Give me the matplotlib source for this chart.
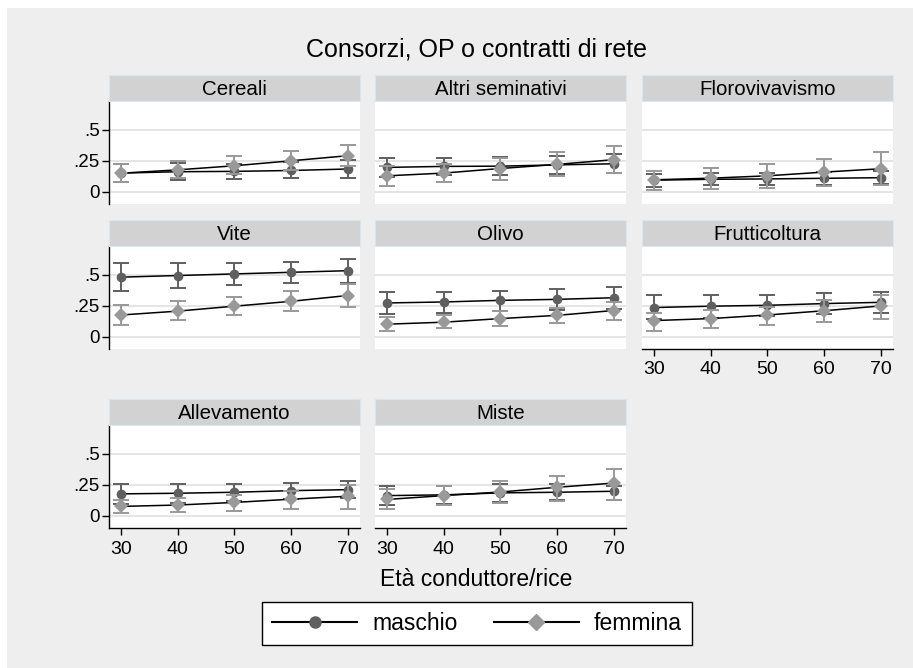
import numpy as np
import matplotlib.pyplot as plt
from matplotlib.lines import Line2D
from matplotlib.patches import Rectangle

plt.rcParams['font.family'] = ['Liberation Sans', 'DejaVu Sans']

# age of the farm manager (x axis)
eta = [30, 40, 50, 60, 70]

settori = ['Cereali', 'Altri seminativi', 'Florovivavismo',
           'Vite', 'Olivo', 'Frutticoltura',
           'Allevamento', 'Miste']

# predicted probabilities and 95% CI, one row per sector
maschio_p = [
    [0.149, 0.160, 0.163, 0.170, 0.182],
    [0.195, 0.203, 0.205, 0.215, 0.224],
    [0.092, 0.099, 0.102, 0.107, 0.112],
    [0.479, 0.492, 0.505, 0.518, 0.531],
    [0.271, 0.279, 0.292, 0.300, 0.313],
    [0.234, 0.245, 0.252, 0.266, 0.276],
    [0.175, 0.180, 0.188, 0.201, 0.209],
    [0.161, 0.167, 0.183, 0.188, 0.196],
]
maschio_lo = [
    [0.080, 0.097, 0.103, 0.108, 0.108],
    [0.120, 0.130, 0.130, 0.140, 0.150],
    [0.040, 0.050, 0.050, 0.055, 0.060],
    [0.371, 0.395, 0.418, 0.431, 0.434],
    [0.179, 0.192, 0.210, 0.218, 0.226],
    [0.140, 0.153, 0.166, 0.179, 0.192],
    [0.095, 0.103, 0.114, 0.135, 0.140],
    [0.082, 0.090, 0.108, 0.122, 0.127],
]
maschio_hi = [
    [0.220, 0.230, 0.225, 0.235, 0.255],
    [0.273, 0.273, 0.276, 0.290, 0.300],
    [0.145, 0.150, 0.150, 0.160, 0.165],
    [0.589, 0.589, 0.592, 0.605, 0.629],
    [0.363, 0.363, 0.368, 0.381, 0.400],
    [0.334, 0.334, 0.339, 0.350, 0.360],
    [0.254, 0.257, 0.254, 0.262, 0.280],
    [0.235, 0.240, 0.254, 0.254, 0.240],
]
femmina_p = [
    [0.148, 0.175, 0.208, 0.248, 0.289],
    [0.127, 0.149, 0.186, 0.219, 0.257],
    [0.095, 0.108, 0.127, 0.157, 0.184],
    [0.174, 0.205, 0.245, 0.284, 0.331],
    [0.100, 0.116, 0.145, 0.171, 0.210],
    [0.129, 0.145, 0.174, 0.208, 0.247],
    [0.074, 0.085, 0.106, 0.132, 0.156],
    [0.130, 0.161, 0.190, 0.228, 0.262],
]
femmina_lo = [
    [0.075, 0.110, 0.140, 0.175, 0.210],
    [0.049, 0.080, 0.095, 0.122, 0.149],
    [0.013, 0.020, 0.027, 0.049, 0.054],
    [0.095, 0.134, 0.171, 0.205, 0.237],
    [0.045, 0.066, 0.087, 0.110, 0.134],
    [0.045, 0.066, 0.092, 0.118, 0.139],
    [0.021, 0.029, 0.040, 0.050, 0.056],
    [0.056, 0.082, 0.103, 0.119, 0.127],
]
femmina_hi = [
    [0.225, 0.250, 0.283, 0.324, 0.375],
    [0.210, 0.220, 0.270, 0.319, 0.367],
    [0.167, 0.194, 0.224, 0.265, 0.316],
    [0.252, 0.287, 0.321, 0.368, 0.421],
    [0.158, 0.171, 0.208, 0.231, 0.279],
    [0.192, 0.213, 0.239, 0.297, 0.337],
    [0.127, 0.138, 0.167, 0.201, 0.249],
    [0.214, 0.240, 0.278, 0.320, 0.378],
]

col_m = '#5f5f5f'
col_f = '#999999'

W, H = 913, 668
fig = plt.figure(figsize=(W / 100, H / 100), dpi=100)
fig.patches.append(Rectangle((7 / W, 0), 1, 1 - 8 / H, transform=fig.transFigure,
                             facecolor='#eeeeee', edgecolor='none', zorder=-10))

col_x = [109, 375, 642]
pw = 251
row_top = [101, 246, 425]
ph = 103
sh = 26


def fx(px):
    return px / W


def fy(py):
    return 1 - py / H


for i, nome in enumerate(settori):
    r, c = divmod(i, 3)
    x0 = col_x[c]
    y0 = row_top[r]
    ax = fig.add_axes([fx(x0), fy(y0 + ph), pw / W, ph / H])
    ax.set_facecolor('white')
    ax.set_xlim(27.9, 72.2)
    ax.set_ylim(-0.1, 0.73)
    ax.set_yticks([0, 0.25, 0.5])
    ax.set_xticks(eta)
    for s in ax.spines.values():
        s.set_visible(False)
    ax.grid(axis='y', color='#e3e3e3', linewidth=1.3)
    ax.set_axisbelow(True)

    left = c == 0
    bottom = (r == 2) or (i == 5)
    if left:
        ax.spines['left'].set_visible(True)
        ax.spines['left'].set_linewidth(1)
        ax.set_yticklabels(['0', '.25', '.5'])
        ax.tick_params(axis='y', length=5, width=1, pad=1.5, labelsize=13.5)
    else:
        ax.tick_params(axis='y', left=False, labelleft=False)
    if bottom:
        ax.spines['bottom'].set_visible(True)
        ax.spines['bottom'].set_linewidth(1)
        ax.tick_params(axis='x', length=5, width=1, pad=4, labelsize=14)
    else:
        ax.tick_params(axis='x', bottom=False, labelbottom=False)

    mp = np.array(maschio_p[i])
    fp = np.array(femmina_p[i])
    ax.errorbar(eta, mp, yerr=[mp - np.array(maschio_lo[i]), np.array(maschio_hi[i]) - mp],
                fmt='none', ecolor=col_m, elinewidth=1.4, capsize=5.5, capthick=1.4, zorder=3)
    ax.plot(eta, mp, color='black', linewidth=1.1, zorder=4)
    ax.plot(eta, mp, 'o', color=col_m, markersize=7, markeredgewidth=0, zorder=5)
    ax.errorbar(eta, fp, yerr=[fp - np.array(femmina_lo[i]), np.array(femmina_hi[i]) - fp],
                fmt='none', ecolor=col_f, elinewidth=1.4, capsize=5.5, capthick=1.4, zorder=6)
    ax.plot(eta, fp, color='black', linewidth=1.1, zorder=7)
    ax.plot(eta, fp, 'D', color=col_f, markersize=7.5, markeredgewidth=0, zorder=8)

    # header strip with the sector name
    sx = fig.add_axes([fx(x0), fy(y0), pw / W, sh / H])
    sx.set_facecolor('#d2d2d2')
    sx.set_xticks([])
    sx.set_yticks([])
    for s in sx.spines.values():
        s.set_edgecolor('#dce6ee')
        s.set_linewidth(0.8)
    sx.text(0.5, 0.45, nome, ha='center', va='center', fontsize=14.8, transform=sx.transAxes)

fig.text(fx(476), fy(49), 'Consorzi, OP o contratti di rete', ha='center', va='center',
         fontsize=18)
fig.text(fx(476), fy(580), 'Età conduttore/rice', ha='center', va='center', fontsize=16.5)

handles = [
    Line2D([], [], color='black', linewidth=1.5, marker='o', markersize=8,
           markerfacecolor=col_m, markeredgecolor=col_m),
    Line2D([], [], color='black', linewidth=1.5, marker='D', markersize=8,
           markerfacecolor=col_f, markeredgecolor=col_f),
]
leg = fig.legend(handles, ['maschio', 'femmina'], loc='center',
                 bbox_to_anchor=(fx(477), fy(623.5)), ncol=2, fontsize=16.5,
                 handlelength=3.7, handletextpad=0.65, columnspacing=1.6,
                 borderpad=0.45, numpoints=1, fancybox=False, framealpha=1)
leg.get_frame().set_edgecolor('black')
leg.get_frame().set_linewidth(1)

fig.savefig('out.png', dpi=100)
